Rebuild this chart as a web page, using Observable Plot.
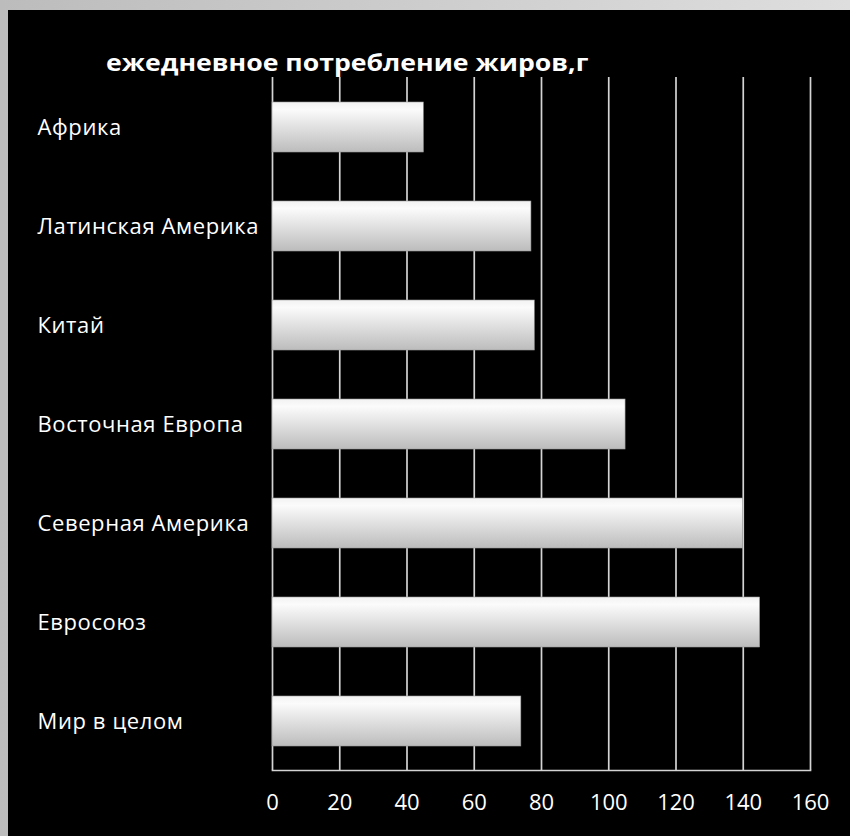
<!DOCTYPE html>
<html>
<head>
<meta charset="utf-8">
<script src="https://cdn.jsdelivr.net/npm/d3@7"></script>
<script src="https://cdn.jsdelivr.net/npm/@observablehq/plot@0.6"></script>
<style>
  html, body { margin: 0; padding: 0; }
  body { width: 850px; height: 836px; position: relative; overflow: hidden;
         background: linear-gradient(to right, #bcbcbc, #dedede); }
  #panel { position: absolute; left: 8px; top: 10px; width: 842px; height: 826px; background: #000; }
  #title { position: absolute; left: 98px; top: 37px; color: #fff;
           font-family: "Open Sans", sans-serif; font-weight: 700; font-size: 24px; line-height: 30px; white-space: nowrap;
           transform: scaleX(1.11); transform-origin: left center; }
  #chart { position: absolute; left: 0; top: 62px; }
  #chart svg { background: transparent; }
  #chart svg g[aria-label="y-axis tick label"] text { letter-spacing: 0.6px; }
</style>
</head>
<body>
<div id="panel">
  <div id="title">ежедневное потребление жиров,г</div>
  <div id="chart"></div>
</div>
<script>
const categories = ["Африка", "Латинская Америка", "Китай", "Восточная Европа", "Северная Америка", "Евросоюз", "Мир в целом"];
const values = [45, 77, 78, 105, 140, 145, 74];
const xTicks = [0, 20, 40, 60, 80, 100, 120, 140, 160];

const data = categories.map((c, i) => ({category: c, value: values[i]}));

const gridColor = "#d4d4d4";

const plot = Plot.plot({
  width: 842,
  height: 764,
  marginTop: 5,
  marginBottom: 66,
  marginLeft: 264,
  marginRight: 40,
  style: {background: "transparent", color: "#fff", fontFamily: "Open Sans, sans-serif"},
  x: {domain: [0, 160], ticks: xTicks},
  y: {domain: categories, paddingInner: 0.5, paddingOuter: 0.25, align: 0.5},
  marks: [
    Plot.ruleX(xTicks, {stroke: gridColor, strokeWidth: 1.7}),
    Plot.frame({anchor: "bottom", stroke: gridColor, strokeWidth: 1.7}),
    Plot.barX(data, {x: "value", y: "category", fill: "url(#barGrad)", stroke: "#9a9a9a", strokeWidth: 0.6}),
    Plot.axisX({ticks: xTicks, tickSize: 0, tickPadding: 24, fontSize: 22, fill: "#fff", label: null}),
    Plot.axisY({tickSize: 0, tickPadding: 0, textAnchor: "start", dx: 29 - 264, fontSize: 22, fill: "#fff", label: null})
  ]
});

const defs = d3.select(plot).insert("defs", ":first-child");
const grad = defs.append("linearGradient").attr("id", "barGrad").attr("x1", 0).attr("y1", 0).attr("x2", 0).attr("y2", 1);
grad.append("stop").attr("offset", "0%").attr("stop-color", "#f2f2f2");
grad.append("stop").attr("offset", "15%").attr("stop-color", "#fbfbfb");
grad.append("stop").attr("offset", "100%").attr("stop-color", "#bcbcbc");

document.getElementById("chart").appendChild(plot);
</script>
</body>
</html>
